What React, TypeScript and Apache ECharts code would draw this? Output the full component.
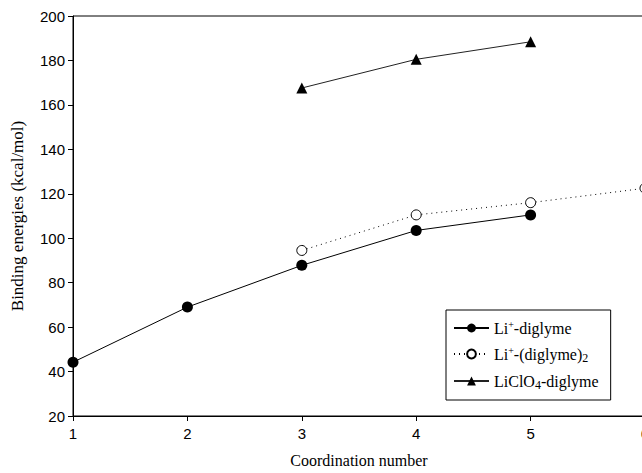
import React, { useEffect, useRef } from "react";
import * as echarts from "echarts";

const coordination = [1, 2, 3, 4, 5, 6];
const liDiglymeX = [1, 2, 3, 4, 5];
const liDiglymeY = [44.2, 69, 87.8, 103.5, 110.5];
const liDiglyme2X = [3, 4, 5, 6];
const liDiglyme2Y = [94.5, 110.5, 116, 122.5];
const liClO4X = [3, 4, 5];
const liClO4Y = [167.6, 180.5, 188.4];
const yTicks = [20, 40, 60, 80, 100, 120, 140, 160, 180, 200];

const NAMES = ["Li+-diglyme", "Li+-(diglyme)2", "LiClO4-diglyme"];

function pairs(xs: number[], ys: number[]) {
  return xs.map((x, i) => [x, ys[i]]);
}

export default function App() {
  const ref = useRef<HTMLDivElement>(null);
  useEffect(() => {
    const chart = echarts.init(ref.current!, null, { renderer: "svg" });
    const serif = "'Liberation Serif', 'Times New Roman', serif";
    const sans = "'Liberation Sans', Arial, sans-serif";
    chart.setOption({
      animation: false,
      backgroundColor: "#fff",
      grid: {
        left: 73,
        top: 16,
        bottom: 57,
        right: -3,
        outerBoundsMode: "none",
        containLabel: false,
        show: true,
        borderColor: "#000",
        borderWidth: 1,
      },
      xAxis: {
        type: "value",
        min: coordination[0],
        max: coordination[coordination.length - 1],
        interval: 1,
        name: "Coordination number",
        nameLocation: "middle",
        nameGap: 36,
        nameTextStyle: { fontFamily: serif, fontSize: 16, color: "#000" },
        axisLine: { lineStyle: { color: "#000", width: 1 } },
        axisTick: { show: true, length: 5, lineStyle: { color: "#000" } },
        axisLabel: { fontFamily: sans, fontSize: 15, color: "#000", margin: 10 },
        splitLine: { show: false },
      },
      yAxis: {
        type: "value",
        min: yTicks[0],
        max: yTicks[yTicks.length - 1],
        interval: 20,
        name: "Binding energies (kcal/mol)",
        nameLocation: "middle",
        nameGap: 47,
        nameTextStyle: { fontFamily: serif, fontSize: 17, color: "#000" },
        axisLine: { show: true, lineStyle: { color: "#000", width: 1 } },
        axisTick: { show: true, length: 5, lineStyle: { color: "#000" } },
        axisLabel: { fontFamily: sans, fontSize: 15, color: "#000", margin: 8 },
        splitLine: { show: false },
      },
      legend: {
        orient: "vertical",
        left: 446,
        top: 310,
        padding: [9, 12, 9, 7],
        borderColor: "#000",
        borderWidth: 1,
        itemWidth: 35,
        itemHeight: 11,
        itemGap: 9,
        data: NAMES,
        formatter: (name: string) => {
          if (name === NAMES[0]) return "{a|Li}{sup|+}{a|-diglyme}";
          if (name === NAMES[1]) return "{a|Li}{sup|+}{a|-(diglyme)}{sub|2}";
          return "{a|LiClO}{sub|4}{a|-diglyme}";
        },
        textStyle: {
          color: "#000",
          fontFamily: serif,
          fontSize: 16,
          rich: {
            a: { fontFamily: serif, fontSize: 16, color: "#000" },
            sup: { fontFamily: serif, fontSize: 10, color: "#000", padding: [0, 0, 8, 0] },
            sub: { fontFamily: serif, fontSize: 12, color: "#000", padding: [8, 0, 0, 0] },
          },
        },
      },
      series: [
        {
          name: NAMES[0],
          type: "line",
          data: pairs(liDiglymeX, liDiglymeY),
          symbol: "circle",
          symbolSize: 11,
          itemStyle: { color: "#000" },
          lineStyle: { color: "#000", width: 1 },
          z: 3,
        },
        {
          name: NAMES[1],
          type: "line",
          data: pairs(liDiglyme2X, liDiglyme2Y),
          symbol: "circle",
          symbolSize: 10,
          itemStyle: { color: "#fff", borderColor: "#000", borderWidth: 1 },
          lineStyle: { color: "#000", width: 1, type: [1, 4] },
          z: 3,
        },
        {
          name: NAMES[2],
          type: "line",
          data: pairs(liClO4X, liClO4Y),
          symbol: "triangle",
          symbolSize: 11,
          itemStyle: { color: "#000" },
          lineStyle: { color: "#222", width: 1 },
          z: 3,
        },
      ],
    });
    return () => chart.dispose();
  }, []);
  return (
    <div
      ref={ref}
      style={{ position: "absolute", left: 0, top: 0, width: 642, height: 473 }}
    />
  );
}
